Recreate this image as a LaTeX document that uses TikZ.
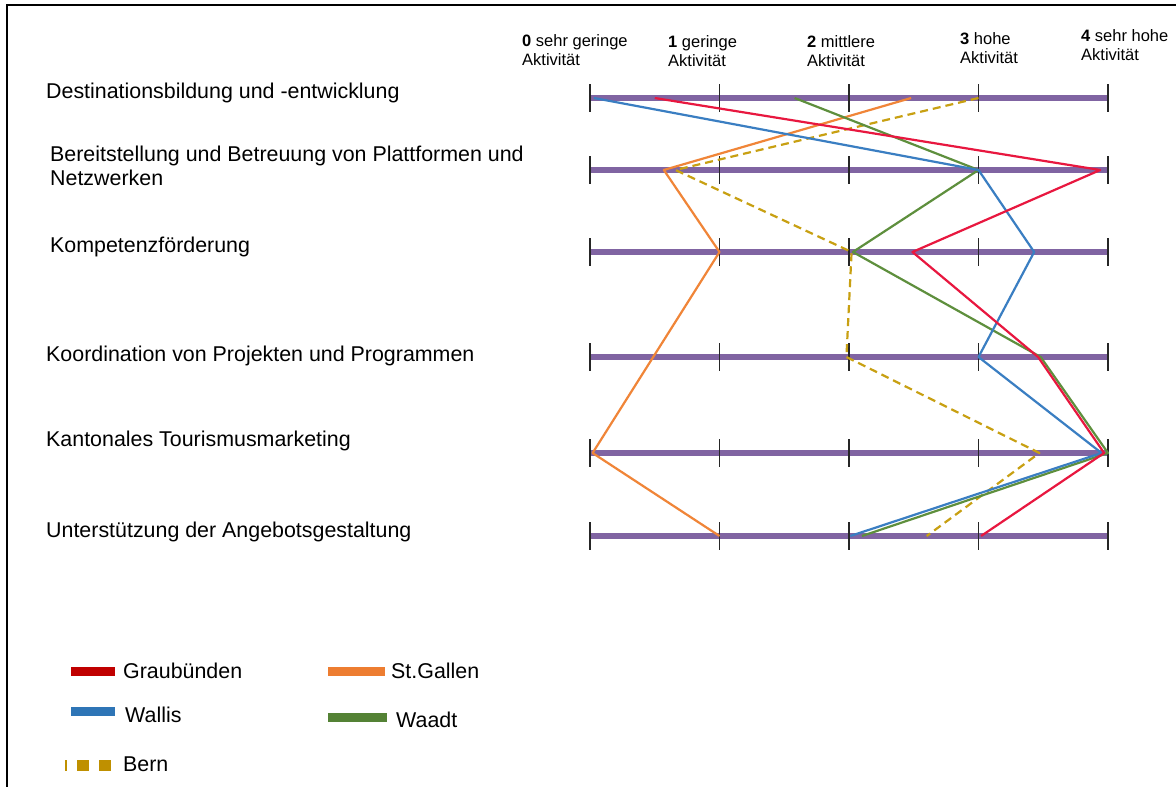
\documentclass[tikz,border=0pt]{standalone}
\usepackage{fontspec}
\setmainfont{Liberation Sans}
\definecolor{axispurple}{HTML}{8064A2}
\definecolor{grline}{HTML}{E8173F}
\definecolor{vsline}{HTML}{3A7EC2}
\definecolor{sgline}{HTML}{F08538}
\definecolor{vdline}{HTML}{5E8F3D}
\definecolor{beline}{HTML}{C8A012}
\definecolor{grkey}{HTML}{C00000}
\definecolor{vskey}{HTML}{2E75B6}
\definecolor{sgkey}{HTML}{ED7D31}
\definecolor{vdkey}{HTML}{548235}
\definecolor{bekey}{HTML}{BF9000}
\tikzset{
  axisline/.style={draw=axispurple, line width=6.5pt},
  tickline/.style={draw=black!85, line width=1.8pt},
  series/.style={line width=2.2pt, line join=round},
  dashedseries/.style={series, dash pattern=on 8pt off 5pt},
  rowlabel/.style={anchor=base west, inner sep=0pt, font=\fontsize{21.4}{24}\selectfont},
  headlabel/.style={anchor=base west, inner sep=0pt, font=\fontsize{16.5}{19}\selectfont},
  keybar/.style={line width=9pt},
}
% horizontal position of a score on the 0--4 scale
\newcommand\sx[1]{590+129.5*#1}
\begin{document}
\begin{tikzpicture}[x=1pt,y=-1pt]
\useasboundingbox (0,0) rectangle (1176,787);
\fill[white] (0,0) rectangle (1176,787);
\draw[line width=2pt] (7,787) -- (7,5) -- (1176,5);

% scale headings
\node[headlabel] (h0a) at (522,46) {\textbf{0} sehr geringe};
\node[headlabel] (h0b) at (522,65) {Aktivität};
\node[headlabel] (h1a) at (668,47) {\textbf{1} geringe};
\node[headlabel] (h1b) at (668,66) {Aktivität};
\node[headlabel] (h2a) at (807,47) {\textbf{2} mittlere};
\node[headlabel] (h2b) at (807,66) {Aktivität};
\node[headlabel] (h3a) at (960,44) {\textbf{3} hohe};
\node[headlabel] (h3b) at (960,63) {Aktivität};
\node[headlabel] (h4a) at (1081,41) {\textbf{4} sehr hohe};
\node[headlabel] (h4b) at (1081,60) {Aktivität};

% task labels
\node[rowlabel] (l1) at (46,98) {Destinationsbildung und -entwicklung};
\node[rowlabel] (l2a) at (50,161) {Bereitstellung und Betreuung von Plattformen und};
\node[rowlabel] (l2b) at (50,185) {Netzwerken};
\node[rowlabel] (l3) at (50,252) {Kompetenzförderung};
\node[rowlabel] (l4) at (46,361) {Koordination von Projekten und Programmen};
\node[rowlabel] (l5) at (46,446) {Kantonales Tourismusmarketing};
\node[rowlabel] (l6) at (46,537) {Unterstützung der Angebotsgestaltung};

% scale axes with ticks
\foreach \r/\yy in {1/98,2/170,3/252,4/357,5/453,6/536}{
  \coordinate (ax\r s) at (590,\yy);
  \coordinate (ax\r e) at (1108,\yy);
  \draw[axisline] (ax\r s) -- (ax\r e);
  \foreach \k in {0,...,4}
    \draw[tickline] ({\sx{\k}},\yy-14) -- ++(0,28);
}

% scores per canton
\coordinate (gr1) at ({\sx{0.5}},98);
\coordinate (gr2) at ({\sx{3.94}},170);
\coordinate (gr3) at ({\sx{2.49}},252);
\coordinate (gr4) at ({\sx{3.46}},357);
\coordinate (gr5) at ({\sx{3.97}},453);
\coordinate (gr6) at ({\sx{3.02}},536);

\coordinate (vs1) at ({\sx{0.03}},98);
\coordinate (vs2) at ({\sx{3.0}},170);
\coordinate (vs3) at ({\sx{3.43}},252);
\coordinate (vs4) at ({\sx{3.0}},357);
\coordinate (vs5) at ({\sx{3.95}},453);
\coordinate (vs6) at ({\sx{2.01}},536);

\coordinate (sg1) at ({\sx{2.48}},98);
\coordinate (sg2) at ({\sx{0.57}},170);
\coordinate (sg3) at ({\sx{1.0}},252);
\coordinate (sg5) at ({\sx{0.02}},453);
\coordinate (sg6) at ({\sx{1.0}},536);

\coordinate (vd1) at ({\sx{1.58}},98);
\coordinate (vd2) at ({\sx{3.0}},170);
\coordinate (vd3) at ({\sx{2.03}},252);
\coordinate (vd4) at ({\sx{3.48}},357);
\coordinate (vd5) at ({\sx{4.0}},453);
\coordinate (vd6) at ({\sx{2.1}},536);

\coordinate (be1) at ({\sx{3.0}},98);
\coordinate (be2) at ({\sx{0.66}},170);
\coordinate (be3) at ({\sx{2.02}},252);
\coordinate (be4) at ({\sx{1.98}},357);
\coordinate (be5) at ({\sx{3.47}},453);
\coordinate (be6) at ({\sx{2.6}},536);

\draw[series, sgline] (sg1) -- (sg2) -- (sg3) -- (sg5) -- (sg6);
\draw[dashedseries, beline] (be1) -- (be2) -- (be3) -- (be4) -- (be5) -- (be6);
\draw[series, vdline] (vd1) -- (vd2) -- (vd3) -- (vd4) -- (vd5) -- (vd6);
\draw[series, vsline] (vs1) -- (vs2) -- (vs3) -- (vs4) -- (vs5) -- (vs6);
\draw[series, grline] (gr1) -- (gr2) -- (gr3) -- (gr4) -- (gr5) -- (gr6);

% legend
\coordinate (kgrA) at (71,671);  \coordinate (kgrB) at (115,671);
\coordinate (kvsA) at (71,711);  \coordinate (kvsB) at (115,711);
\coordinate (kbeA) at (65,765.5); \coordinate (kbeB) at (111,765.5);
\coordinate (ksgA) at (328,671); \coordinate (ksgB) at (385,671);
\coordinate (kvdA) at (328,717); \coordinate (kvdB) at (387,717);
\draw[keybar, grkey] (kgrA) -- (kgrB);
\draw[keybar, vskey] (kvsA) -- (kvsB);
\draw[keybar, bekey, line width=11pt, dash pattern=on 12pt off 10pt, dash phase=10pt] (kbeA) -- (kbeB);
\draw[keybar, sgkey] (ksgA) -- (ksgB);
\draw[keybar, vdkey] (kvdA) -- (kvdB);
\node[rowlabel] (tgr) at (123,678) {Graubünden};
\node[rowlabel] (tvs) at (125,722) {Wallis};
\node[rowlabel] (tbe) at (123,771) {Bern};
\node[rowlabel] (tsg) at (391,678) {St.Gallen};
\node[rowlabel] (tvd) at (396,727) {Waadt};
\end{tikzpicture}
\end{document}
